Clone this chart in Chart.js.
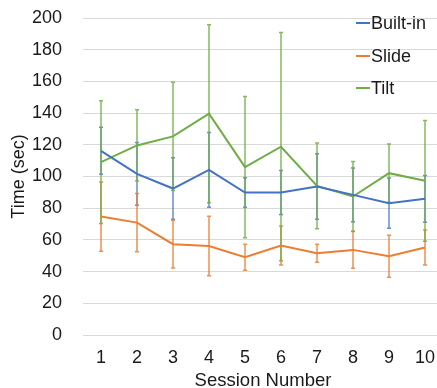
<!DOCTYPE html>
<html><head><meta charset="utf-8">
<script src="https://cdn.jsdelivr.net/npm/chart.js@4/dist/chart.umd.min.js"></script>
<style>html,body{margin:0;padding:0;overflow:hidden;background:#fff}#wrap{width:443px;height:388px}</style>
</head><body><div id="wrap"><canvas id="c" width="443" height="388"></canvas></div>
<script>
const sessions = ['1','2','3','4','5','6','7','8','9','10'];
const builtIn = [116.2, 101.7, 92.4, 104.2, 89.9, 89.9, 93.7, 88.4, 83.2, 85.9];
const builtInErr = [14.8, 19.8, 19.4, 23.6, 9.3, 13.9, 20.6, 17, 15.8, 14.7];
const slide = [74.7, 70.9, 57.3, 56.2, 49.1, 56.4, 51.6, 53.7, 49.7, 55.2];
const slideErr = [21.8, 18.4, 15.1, 18.8, 8.2, 12.3, 5.7, 11.6, 13.3, 11.1];
const tilt = [109.1, 119.6, 125.3, 139.6, 105.9, 118.8, 94.1, 87.4, 102.1, 97.3];
const tiltErr = [38.7, 22.5, 34.1, 56.2, 44.6, 72, 27, 22, 18.4, 38.1];
const seriesNames = ['Built-in', 'Slide', 'Tilt'];
const colors = ['#4472C4', '#ED7D31', '#70AD47'];
const errColors = ['rgba(68,114,196,0.8)', 'rgba(237,125,49,0.85)', 'rgba(112,173,71,0.85)'];
const FONT = '"Liberation Sans", Arial, sans-serif';

const errorBars = {
  id: 'errorBars',
  beforeDatasetsDraw(chart) {
    const ctx = chart.ctx, x = chart.scales.x, y = chart.scales.y;
    chart.data.datasets.forEach((ds, i) => {
      ctx.save();
      ctx.strokeStyle = errColors[i];
      ctx.lineWidth = 1.5;
      ds.data.forEach((v, j) => {
        const e = ds.errs[j];
        const px = x.getPixelForValue(j);
        const t = y.getPixelForValue(v + e), b = y.getPixelForValue(v - e);
        ctx.beginPath();
        ctx.moveTo(px, t); ctx.lineTo(px, b);
        ctx.moveTo(px - 2, t); ctx.lineTo(px + 2, t);
        ctx.moveTo(px - 2, b); ctx.lineTo(px + 2, b);
        ctx.stroke();
      });
      ctx.restore();
    });
  }
};

const legendInside = {
  id: 'legendInside',
  afterDraw(chart) {
    const ctx = chart.ctx;
    const ys = [23, 56, 88];
    ctx.save();
    ctx.font = '18px ' + FONT;
    ctx.textBaseline = 'middle';
    chart.data.datasets.forEach((ds, i) => {
      ctx.strokeStyle = colors[i];
      ctx.lineWidth = 2;
      ctx.beginPath();
      ctx.moveTo(356, ys[i]); ctx.lineTo(370, ys[i]);
      ctx.stroke();
      ctx.fillStyle = '#1a1a1a';
      ctx.fillText(ds.label, 371, ys[i] + 1);
    });
    ctx.restore();
  }
};

new Chart(document.getElementById('c'), {
  type: 'line',
  data: {
    labels: sessions,
    datasets: [
      {label: seriesNames[0], data: builtIn, errs: builtInErr, borderColor: colors[0]},
      {label: seriesNames[1], data: slide, errs: slideErr, borderColor: colors[1]},
      {label: seriesNames[2], data: tilt, errs: tiltErr, borderColor: colors[2]}
    ].map(d => Object.assign(d, {borderWidth: 2, pointRadius: 0, tension: 0, fill: false}))
  },
  options: {
    responsive: false,
    animation: false,
    layout: {padding: {top: 18, left: 0, right: 0, bottom: 0}},
    plugins: {legend: {display: false}, tooltip: {enabled: false}},
    scales: {
      x: {
        offset: true,
        grid: {display: false, drawTicks: false},
        border: {display: false},
        ticks: {color: '#1a1a1a', font: {family: FONT, size: 18}, padding: 12, maxRotation: 0},
        title: {display: true, text: 'Session Number', color: '#1a1a1a', font: {family: FONT, size: 18.5}, padding: {top: 2, bottom: -4}},
        afterFit(s) { s.height = 53; s.paddingLeft = 0; s.paddingRight = 0; }
      },
      y: {
        min: 0, max: 200,
        ticks: {stepSize: 20, color: '#1a1a1a', font: {family: FONT, size: 18}, padding: 21},
        grid: {color: '#D9D9D9', lineWidth: 1, drawTicks: false},
        border: {display: false},
        title: {display: true, text: 'Time (sec)', color: '#1a1a1a', font: {family: FONT, size: 18}, padding: {top: 8, bottom: 2}},
        afterFit(s) { s.width = 83; s.paddingTop = 0; s.paddingBottom = 0; }
      }
    }
  },
  plugins: [errorBars, legendInside]
});
</script></body></html>
